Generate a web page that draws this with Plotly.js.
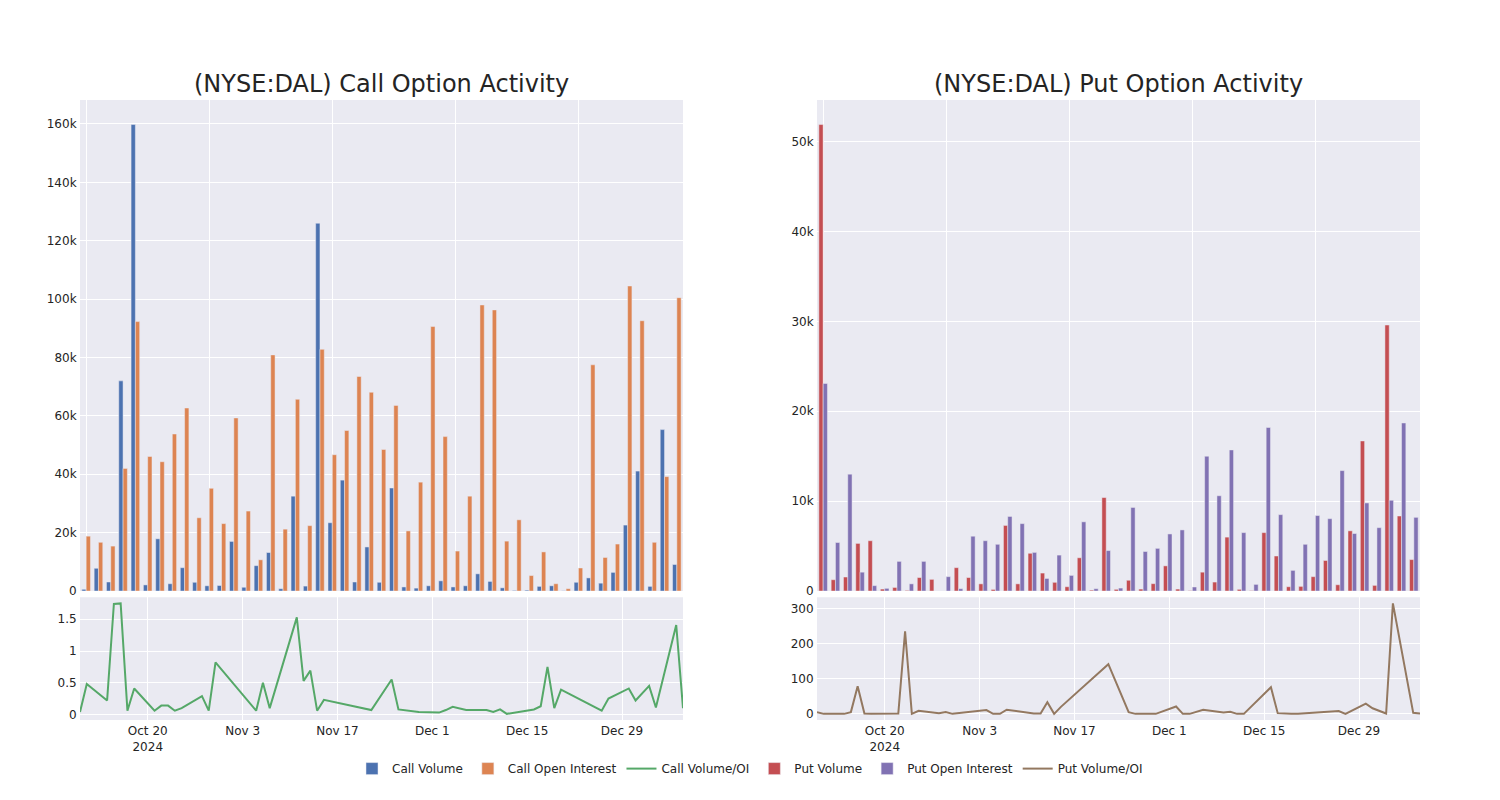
<!DOCTYPE html>
<html>
<head>
<meta charset="utf-8">
<script src="https://cdn.plot.ly/plotly-3.0.1.min.js"></script>
<style>html,body{margin:0;padding:0;background:#fff;}#chart{width:1500px;height:800px;}</style>
</head>
<body>
<div id="chart"></div>
<script>
// ---- data ----
const dates = [
  "2024-10-10","2024-10-11","2024-10-14","2024-10-15","2024-10-16","2024-10-17","2024-10-18",
  "2024-10-21","2024-10-22","2024-10-23","2024-10-24","2024-10-25","2024-10-28","2024-10-29","2024-10-30",
  "2024-11-04","2024-11-05","2024-11-06","2024-11-07","2024-11-11","2024-11-12","2024-11-13","2024-11-14","2024-11-15",
  "2024-11-22","2024-11-25","2024-11-26","2024-11-29",
  "2024-12-02","2024-12-03","2024-12-04","2024-12-06","2024-12-09","2024-12-10","2024-12-11","2024-12-12",
  "2024-12-16","2024-12-17","2024-12-18","2024-12-19","2024-12-20","2024-12-26","2024-12-27","2024-12-30","2024-12-31",
  "2025-01-02","2025-01-03","2025-01-06","2025-01-07"
];
const callVolume = [
  600, 7800, 3100, 72000, 159800, 2100, 17900,
  2500, 8000, 3000, 1800, 1900, 17000, 1300, 8700,
  13200, 800, 32500, 1700, 126000, 23400, 38000, 3100, 15100,
  3000, 35300, 1400, 1000,
  1800, 3500, 1400, 1800, 5900, 3300, 1100, 200,
  300, 1600, 1800, 80, 3000, 4500, 2700, 6400, 22600,
  41100, 1600, 55300, 9100
];
const callOpenInterest = [
  18800, 16700, 15400, 42000, 92300, 46100, 44300,
  53800, 62700, 25100, 35200, 23100, 59300, 27400, 10700,
  80900, 21200, 65700, 22400, 82800, 46700, 55000, 73500, 68100,
  48500, 63600, 20600, 37300,
  90600, 52900, 13700, 32500, 98000, 96300, 17100, 24400,
  5300, 13400, 2500, 800, 7900, 77500, 11500, 16100, 104500,
  92600, 16700, 39200, 100500
];
const callVolOI = [
  0.04, 0.48, 0.22, 1.74, 1.75, 0.06, 0.41,
  0.06, 0.14, 0.14, 0.06, 0.10, 0.29, 0.06, 0.82,
  0.19, 0.06, 0.50, 0.10, 1.53, 0.53, 0.69, 0.06, 0.23,
  0.07, 0.55, 0.08, 0.04,
  0.03, 0.07, 0.12, 0.07, 0.07, 0.04, 0.08, 0.01,
  0.08, 0.13, 0.75, 0.10, 0.39, 0.06, 0.25, 0.41, 0.22,
  0.45, 0.11, 1.41, 0.10
];
const putVolume = [
  51900, 1260, 1560, 5300, 5600, 220, 400,
  70, 1500, 1300, 0, 2600, 1500, 800, 180,
  7300, 800, 4200, 2000, 970, 480, 3700, 100, 10400,
  190, 1200, 220, 820,
  2800, 220, 40, 2100, 1000, 6000, 190, 40,
  6500, 3900, 480, 520, 1600, 3400, 700, 6700, 16700,
  630, 29600, 8350, 3500
];
const putOpenInterest = [
  23100, 5400, 13000, 2100, 600, 300, 3300,
  800, 3300, 5, 1600, 260, 6100, 5600, 5200,
  8300, 7500, 4300, 1400, 4000, 1740, 7700, 260, 4500,
  330, 9300, 4400, 4750,
  6350, 6800, 450, 15000, 10600, 15700, 6500, 740,
  18200, 8500, 2300, 5200, 8400, 8050, 13400, 6400, 9800,
  7050, 10100, 18700, 8200
];
const putVolOI = [
  5, 0, 0, 5, 79, 1, 0,
  1, 1, 236, 0, 9, 2, 5, 0,
  11, 0, 0, 12, 1, 1, 33, 0, 20,
  142, 5, 0, 0,
  21, 0, 0, 12, 4, 6, 0, 0,
  76, 2, 0, 0, 0, 8, 0, 29, 16,
  1, 316, 3, 1
];

// ---- styling ----
const colors = {
  callVol: "#4C72B0", callOI: "#DD8452", callRatio: "#55A868",
  putVol: "#C44E52", putOI: "#8172B3", putRatio: "#937860"
};
const barLine = {color: "#EAEAF2", width: 0.5};
const FONT = "DejaVu Sans, Verdana, sans-serif";

const traces = [
  {type: "bar", name: "Call Volume", x: dates, y: callVolume, xaxis: "x", yaxis: "y",
   marker: {color: colors.callVol, line: barLine}},
  {type: "bar", name: "Call Open Interest", x: dates, y: callOpenInterest, xaxis: "x", yaxis: "y",
   marker: {color: colors.callOI, line: barLine}},
  {type: "scatter", mode: "lines", name: "Call Volume/OI", x: dates, y: callVolOI, xaxis: "x3", yaxis: "y3",
   line: {color: colors.callRatio, width: 2}},
  {type: "bar", name: "Put Volume", x: dates, y: putVolume, xaxis: "x2", yaxis: "y2",
   marker: {color: colors.putVol, line: barLine}},
  {type: "bar", name: "Put Open Interest", x: dates, y: putOpenInterest, xaxis: "x2", yaxis: "y2",
   marker: {color: colors.putOI, line: barLine}},
  {type: "scatter", mode: "lines", name: "Put Volume/OI", x: dates, y: putVolOI, xaxis: "x4", yaxis: "y4",
   line: {color: colors.putRatio, width: 2}}
];

const gridCommon = {gridcolor: "white", linecolor: "white", zerolinecolor: "white", ticks: "",
  tickfont: {size: 12, color: "rgb(36,36,36)"}};
const catAxis = Object.assign({}, gridCommon, {type: "category", showticklabels: false,
  tickmode: "linear", tick0: 0, dtick: 10});
const dateAxis = Object.assign({}, gridCommon, {type: "date", tickmode: "linear",
  tick0: "2024-10-20", dtick: 14 * 86400000});

const topDom = [0.208, 1], botDom = [0, 0.198];
const leftDom = [0, 0.45], rightDom = [0.55, 1];

const layout = {
  width: 1500, height: 800,
  margin: {l: 80, r: 80, t: 100, b: 80},
  paper_bgcolor: "white", plot_bgcolor: "#EAEAF2",
  font: {family: FONT, size: 12, color: "rgb(36,36,36)"},
  barmode: "group", bargap: 0.3, bargroupgap: 0,
  showlegend: true,
  legend: {orientation: "h", x: 0.5, xanchor: "center", y: -0.055, yanchor: "top",
    font: {size: 12}},
  xaxis: Object.assign({}, catAxis, {domain: leftDom, anchor: "y"}),
  yaxis: Object.assign({}, gridCommon, {domain: topDom, anchor: "x", rangemode: "tozero"}),
  xaxis2: Object.assign({}, catAxis, {domain: rightDom, anchor: "y2"}),
  yaxis2: Object.assign({}, gridCommon, {domain: topDom, anchor: "x2", rangemode: "tozero"}),
  xaxis3: Object.assign({}, dateAxis, {domain: leftDom, anchor: "y3"}),
  yaxis3: Object.assign({}, gridCommon, {domain: botDom, anchor: "x3"}),
  xaxis4: Object.assign({}, dateAxis, {domain: rightDom, anchor: "y4"}),
  yaxis4: Object.assign({}, gridCommon, {domain: botDom, anchor: "x4"}),
  annotations: [
    {text: "(NYSE:DAL) Call Option Activity", xref: "paper", yref: "paper",
     x: (leftDom[0] + leftDom[1]) / 2, y: 1, xanchor: "center", yanchor: "bottom",
     showarrow: false, font: {size: 24, color: "rgb(36,36,36)"}},
    {text: "(NYSE:DAL) Put Option Activity", xref: "paper", yref: "paper",
     x: (rightDom[0] + rightDom[1]) / 2, y: 1, xanchor: "center", yanchor: "bottom",
     showarrow: false, font: {size: 24, color: "rgb(36,36,36)"}}
  ]
};

Plotly.newPlot("chart", traces, layout, {displayModeBar: false, responsive: false});
</script>
</body>
</html>
